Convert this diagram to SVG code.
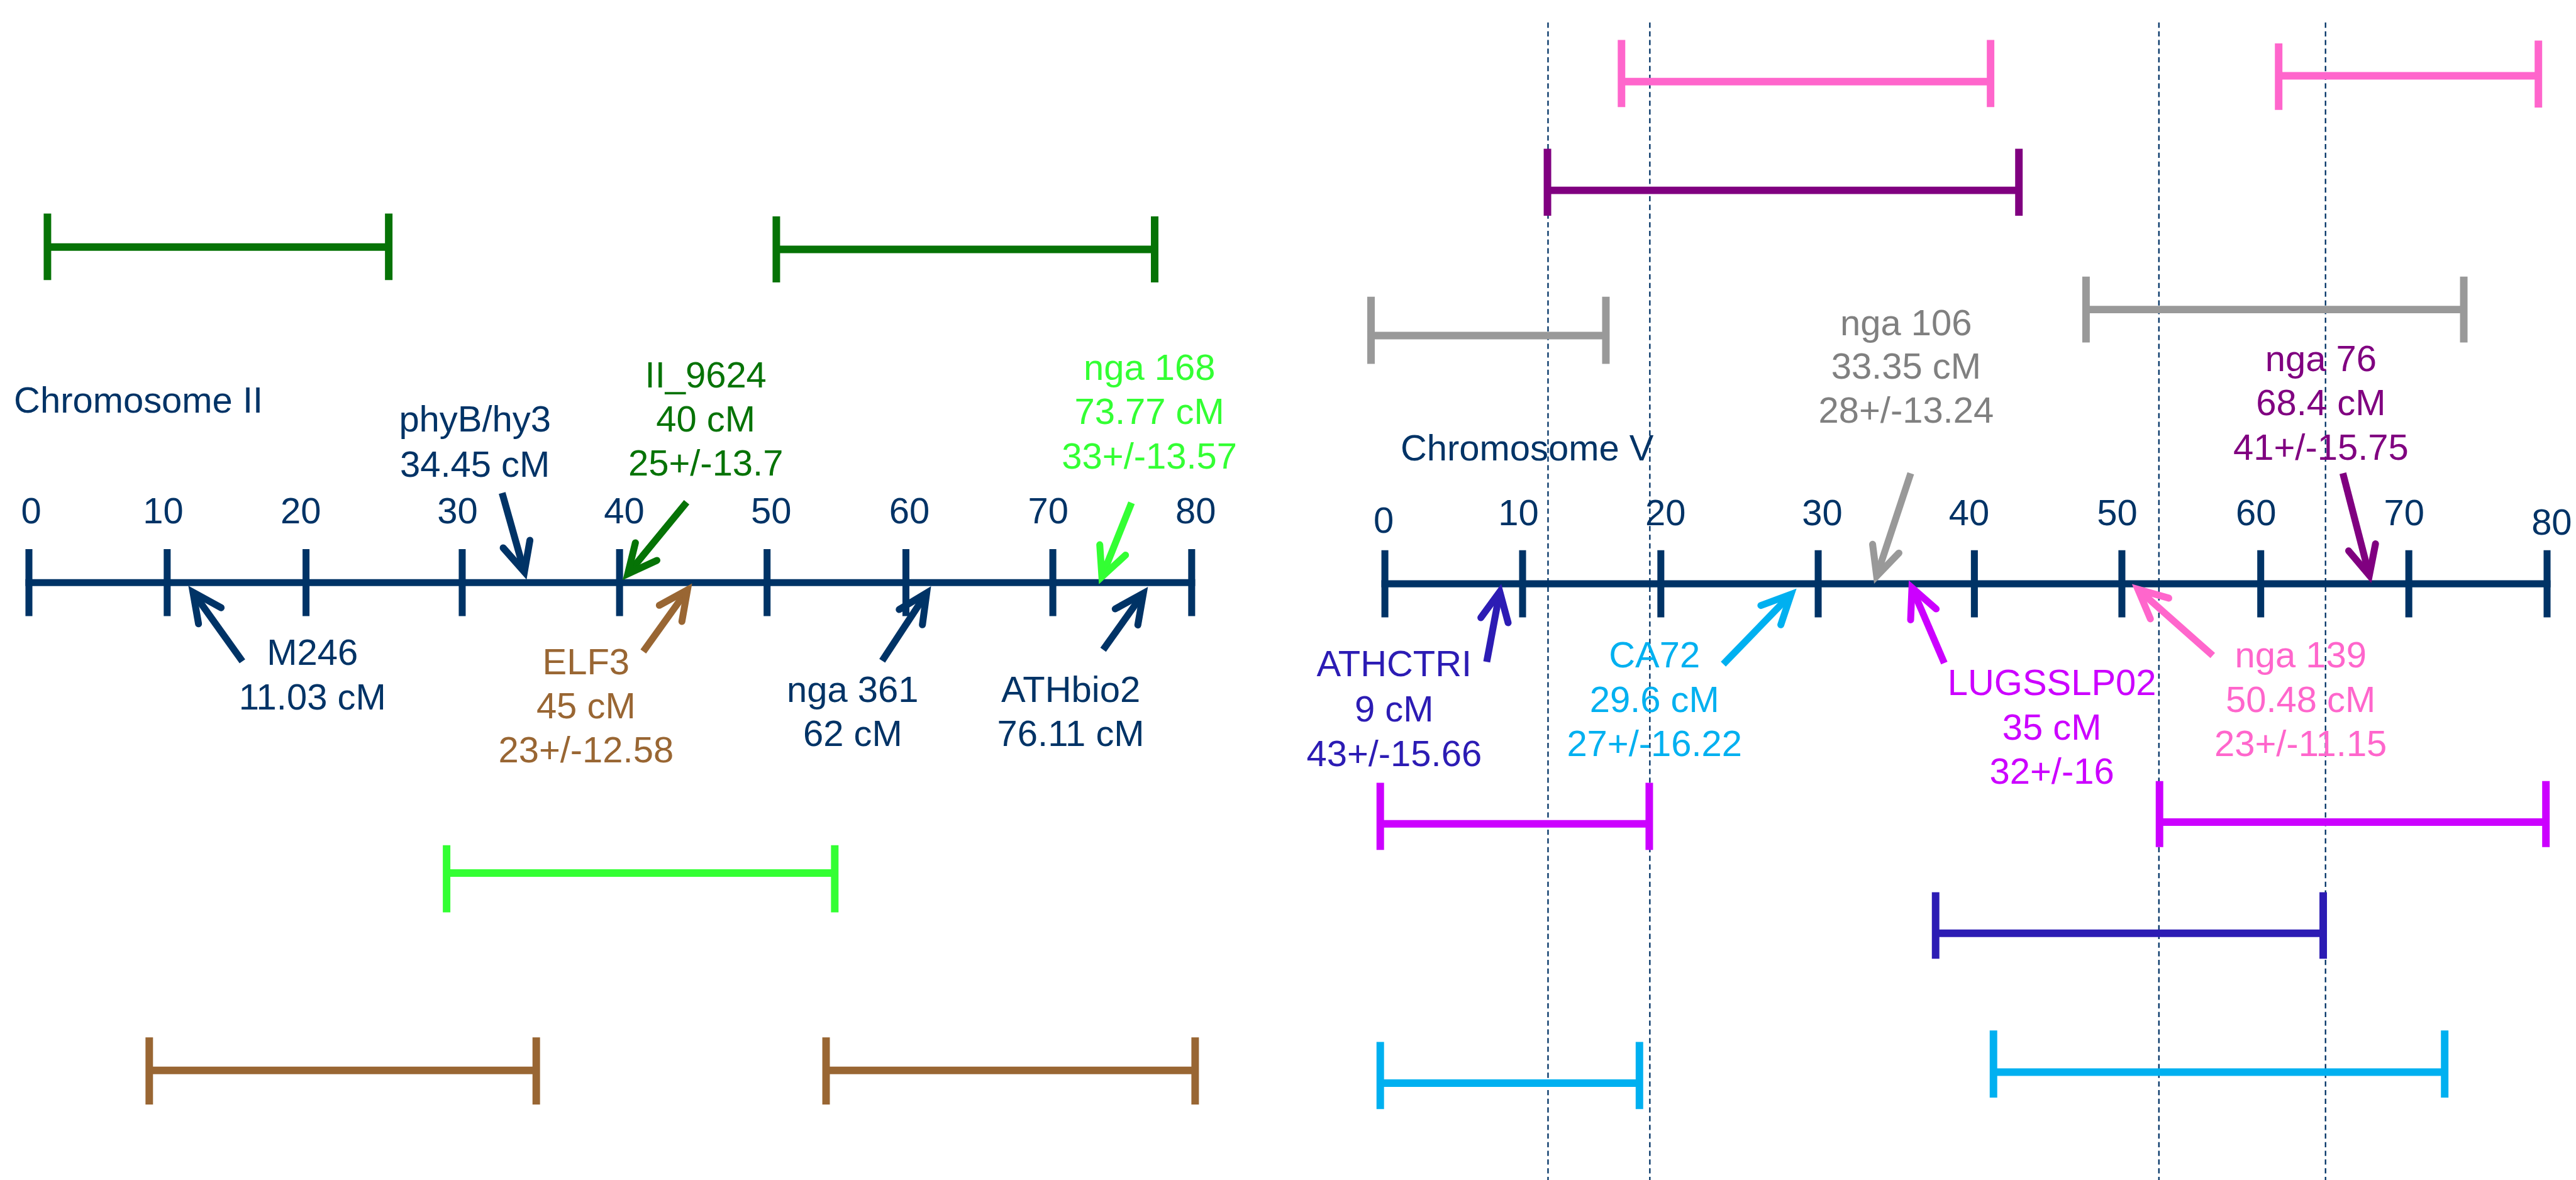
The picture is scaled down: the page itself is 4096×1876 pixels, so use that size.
<svg xmlns="http://www.w3.org/2000/svg" width="4096" height="1876" viewBox="0 0 4096 1876">
<defs>
<style>
text{font-family:"Liberation Sans",Arial,sans-serif;font-size:63px;text-anchor:middle}
.start{text-anchor:start}
.navy{fill:#003366}.dkgreen{fill:#067306}.ltgreen{fill:#33FF33}.brown{fill:#996633}
.grayt{fill:#808080}.purple{fill:#800080}.dkblue{fill:#2C1CB4}.cyan{fill:#00B0F0}
.magenta{fill:#CC00FF}.pink{fill:#FF66CC}
.axis{stroke:#003366;stroke-width:12;fill:none}
.bar{fill:none;stroke-width:13}
.arr{fill:none;stroke-width:12;stroke-linecap:butt}
.dash{stroke:#003366;stroke-width:2.5;stroke-dasharray:9 6;fill:none}
.ah{fill:none;stroke-width:12;stroke-linecap:round;stroke-linejoin:miter}
</style>
<marker id="ah-navy" markerUnits="userSpaceOnUse" orient="auto" overflow="visible" viewBox="0 0 1 1" markerWidth="1" markerHeight="1" refX="0" refY="0"><path class="ah" stroke="#003366" d="M-50,-24L0,0L-50,24"/></marker>
<marker id="ah-dkgreen" markerUnits="userSpaceOnUse" orient="auto" overflow="visible" viewBox="0 0 1 1" markerWidth="1" markerHeight="1" refX="0" refY="0"><path class="ah" stroke="#067306" d="M-50,-24L0,0L-50,24"/></marker>
<marker id="ah-ltgreen" markerUnits="userSpaceOnUse" orient="auto" overflow="visible" viewBox="0 0 1 1" markerWidth="1" markerHeight="1" refX="0" refY="0"><path class="ah" stroke="#33FF33" d="M-50,-24L0,0L-50,24"/></marker>
<marker id="ah-brown" markerUnits="userSpaceOnUse" orient="auto" overflow="visible" viewBox="0 0 1 1" markerWidth="1" markerHeight="1" refX="0" refY="0"><path class="ah" stroke="#996633" d="M-50,-24L0,0L-50,24"/></marker>
<marker id="ah-gray" markerUnits="userSpaceOnUse" orient="auto" overflow="visible" viewBox="0 0 1 1" markerWidth="1" markerHeight="1" refX="0" refY="0"><path class="ah" stroke="#999999" d="M-50,-24L0,0L-50,24"/></marker>
<marker id="ah-purple" markerUnits="userSpaceOnUse" orient="auto" overflow="visible" viewBox="0 0 1 1" markerWidth="1" markerHeight="1" refX="0" refY="0"><path class="ah" stroke="#800080" d="M-50,-24L0,0L-50,24"/></marker>
<marker id="ah-dkblue" markerUnits="userSpaceOnUse" orient="auto" overflow="visible" viewBox="0 0 1 1" markerWidth="1" markerHeight="1" refX="0" refY="0"><path class="ah" stroke="#2C1CB4" d="M-50,-24L0,0L-50,24"/></marker>
<marker id="ah-cyan" markerUnits="userSpaceOnUse" orient="auto" overflow="visible" viewBox="0 0 1 1" markerWidth="1" markerHeight="1" refX="0" refY="0"><path class="ah" stroke="#00B0F0" d="M-50,-24L0,0L-50,24"/></marker>
<marker id="ah-magenta" markerUnits="userSpaceOnUse" orient="auto" overflow="visible" viewBox="0 0 1 1" markerWidth="1" markerHeight="1" refX="0" refY="0"><path class="ah" stroke="#CC00FF" d="M-50,-24L0,0L-50,24"/></marker>
<marker id="ah-pink" markerUnits="userSpaceOnUse" orient="auto" overflow="visible" viewBox="0 0 1 1" markerWidth="1" markerHeight="1" refX="0" refY="0"><path class="ah" stroke="#FF66CC" d="M-50,-24L0,0L-50,24"/></marker>
</defs>
<rect width="4096" height="1876" fill="#ffffff"/>
<g transform="scale(0.91983)">

<g id="guides">
<path class="dash" d="M2676,39V2040M2852,39V2040M3732,39V2040M4020,39V2040"/>
</g>

<g id="chromosome-II">
<text class="navy start" x="24" y="713">Chromosome II</text>
<path class="axis" d="M44,1007H2066"/>
<path class="axis" stroke-width="12.5" d="M50,949V1065M289,949V1065M529,949V1065M799,949V1065M1071,949V1065M1326,949V1065M1566,949V1065M1820,949V1065M2060,949V1065"/>
<g class="navy">
<text x="54" y="905">0</text><text x="282" y="905">10</text><text x="520" y="905">20</text><text x="791" y="905">30</text><text x="1079" y="905">40</text><text x="1333" y="905">50</text><text x="1572" y="905">60</text><text x="1812" y="905">70</text><text x="2067" y="905">80</text>
</g>
</g>

<g id="chromosome-V">
<text class="navy start" x="2421" y="796">Chromosome V</text>
<path class="axis" d="M2388,1009H4409"/>
<path class="axis" stroke-width="12.5" d="M2394,951V1067M2632,951V1067M2871,951V1067M3143,951V1067M3413,951V1067M3668,951V1067M3908,951V1067M4164,951V1067M4403,951V1067"/>
<g class="navy">
<text x="2392" y="921">0</text><text x="2625" y="908">10</text><text x="2879" y="908">20</text><text x="3150" y="908">30</text><text x="3404" y="908">40</text><text x="3660" y="908">50</text><text x="3900" y="908">60</text><text x="4156" y="908">70</text><text x="4411" y="924">80</text>
</g>
</g>

<g id="label-phyB"><text class="navy"><tspan x="821" y="746">phyB/hy3</tspan><tspan x="821" y="824">34.45 cM</tspan></text></g>
<g id="label-II_9624"><text class="dkgreen"><tspan x="1220" y="670">II_9624</tspan><tspan x="1220" y="746">40 cM</tspan><tspan x="1220" y="822">25+/-13.7</tspan></text></g>
<g id="label-nga168"><text class="ltgreen"><tspan x="1987" y="657">nga 168</tspan><tspan x="1987" y="733">73.77 cM</tspan><tspan x="1987" y="810">33+/-13.57</tspan></text></g>
<g id="label-M246"><text class="navy"><tspan x="540" y="1149">M246</tspan><tspan x="540" y="1226">11.03 cM</tspan></text></g>
<g id="label-ELF3"><text class="brown"><tspan x="1013" y="1165">ELF3</tspan><tspan x="1013" y="1242">45 cM</tspan><tspan x="1013" y="1318">23+/-12.58</tspan></text></g>
<g id="label-nga361"><text class="navy"><tspan x="1474" y="1213">nga 361</tspan><tspan x="1474" y="1289">62 cM</tspan></text></g>
<g id="label-ATHbio2"><text class="navy"><tspan x="1851" y="1213">ATHbio2</tspan><tspan x="1851" y="1289">76.11 cM</tspan></text></g>

<g id="label-nga106"><text class="grayt"><tspan x="3295" y="579">nga 106</tspan><tspan x="3295" y="655">33.35 cM</tspan><tspan x="3295" y="731">28+/-13.24</tspan></text></g>
<g id="label-nga76"><text class="purple"><tspan x="4012" y="641">nga 76</tspan><tspan x="4012" y="717">68.4 cM</tspan><tspan x="4012" y="795">41+/-15.75</tspan></text></g>
<g id="label-ATHCTRI"><text class="dkblue"><tspan x="2410" y="1169">ATHCTRI</tspan><tspan x="2410" y="1247">9 cM</tspan><tspan x="2410" y="1324">43+/-15.66</tspan></text></g>
<g id="label-CA72"><text class="cyan"><tspan x="2860" y="1154">CA72</tspan><tspan x="2860" y="1231">29.6 cM</tspan><tspan x="2860" y="1307">27+/-16.22</tspan></text></g>
<g id="label-LUGSSLP02"><text class="magenta"><tspan x="3547" y="1201">LUGSSLP02</tspan><tspan x="3547" y="1278">35 cM</tspan><tspan x="3547" y="1355">32+/-16</tspan></text></g>
<g id="label-nga139"><text class="pink"><tspan x="3977" y="1154">nga 139</tspan><tspan x="3977" y="1231">50.48 cM</tspan><tspan x="3977" y="1307">23+/-11.15</tspan></text></g>

<g id="interval-II_9624-a"><path class="bar" stroke="#067306" d="M82,369V484M82,427H672M672,369V484"/></g>
<g id="interval-II_9624-b"><path class="bar" stroke="#067306" d="M1342,374V488M1342,431H1996M1996,374V488"/></g>
<g id="interval-nga168"><path class="bar" stroke="#33FF33" d="M772,1461V1577M772,1509H1443M1443,1461V1577"/></g>
<g id="interval-ELF3-a"><path class="bar" stroke="#996633" d="M258,1793V1909M258,1850H927M927,1793V1909"/></g>
<g id="interval-ELF3-b"><path class="bar" stroke="#996633" d="M1428,1793V1909M1428,1850H2066M2066,1793V1909"/></g>

<g id="interval-nga139-a"><path class="bar" stroke="#FF66CC" d="M2803,69V185M2803,141H3441M3441,69V185"/></g>
<g id="interval-nga139-b"><path class="bar" stroke="#FF66CC" d="M3939,75V190M3939,131H4388M4388,70V186"/></g>
<g id="interval-nga76"><path class="bar" stroke="#800080" d="M2675,257V373M2675,329H3490M3490,257V373"/></g>
<g id="interval-nga106-a"><path class="bar" stroke="#999999" d="M2370,513V629M2370,580H2776M2776,513V629"/></g>
<g id="interval-nga106-b"><path class="bar" stroke="#999999" d="M3606,478V592M3606,535H4259M4259,478V592"/></g>
<g id="interval-LUGSSLP02-a"><path class="bar" stroke="#CC00FF" d="M2386,1353V1469M2386,1424H2851M2851,1353V1469"/></g>
<g id="interval-LUGSSLP02-b"><path class="bar" stroke="#CC00FF" d="M3733,1350V1464M3733,1421H4401M4401,1350V1464"/></g>
<g id="interval-ATHCTRI"><path class="bar" stroke="#2C1CB4" d="M3346,1542V1657M3346,1613H4016M4016,1542V1657"/></g>
<g id="interval-CA72-a"><path class="bar" stroke="#00B0F0" d="M2386,1801V1917M2386,1872H2834M2834,1801V1917"/></g>
<g id="interval-CA72-b"><path class="bar" stroke="#00B0F0" d="M3446,1781V1897M3446,1853H4226M4226,1781V1897"/></g>

<g id="connectors">
<path class="arr" stroke="#003366" marker-end="url(#ah-navy)" d="M868,852L906.5,988.5"/>
<path class="arr" stroke="#003366" marker-end="url(#ah-navy)" d="M419,1143L333.6,1023.6"/>
<path class="arr" stroke="#067306" marker-end="url(#ah-dkgreen)" d="M1187,868L1085.2,992"/>
<path class="arr" stroke="#996633" marker-end="url(#ah-brown)" d="M1112,1126L1188.4,1019.6"/>
<path class="arr" stroke="#003366" marker-end="url(#ah-navy)" d="M1525,1142L1601.9,1024.9"/>
<path class="arr" stroke="#33FF33" marker-end="url(#ah-ltgreen)" d="M1956,869L1904.8,996.9"/>
<path class="arr" stroke="#003366" marker-end="url(#ah-navy)" d="M1907,1123L1976.4,1025.6"/>
<path class="arr" stroke="#999999" marker-end="url(#ah-gray)" d="M3303,818L3244.1,995.7"/>
<path class="arr" stroke="#800080" marker-end="url(#ah-purple)" d="M4050,818L4095.7,994.4"/>
<path class="arr" stroke="#2C1CB4" marker-end="url(#ah-dkblue)" d="M2570,1144L2592.6,1022.8"/>
<path class="arr" stroke="#00B0F0" marker-end="url(#ah-cyan)" d="M2979,1148L3096,1027.3"/>
<path class="arr" stroke="#CC00FF" marker-end="url(#ah-magenta)" d="M3361,1146L3305.1,1016"/>
<path class="arr" stroke="#FF66CC" marker-end="url(#ah-pink)" d="M3825,1133L3695.7,1018.6"/>
</g>

</g>
</svg>
